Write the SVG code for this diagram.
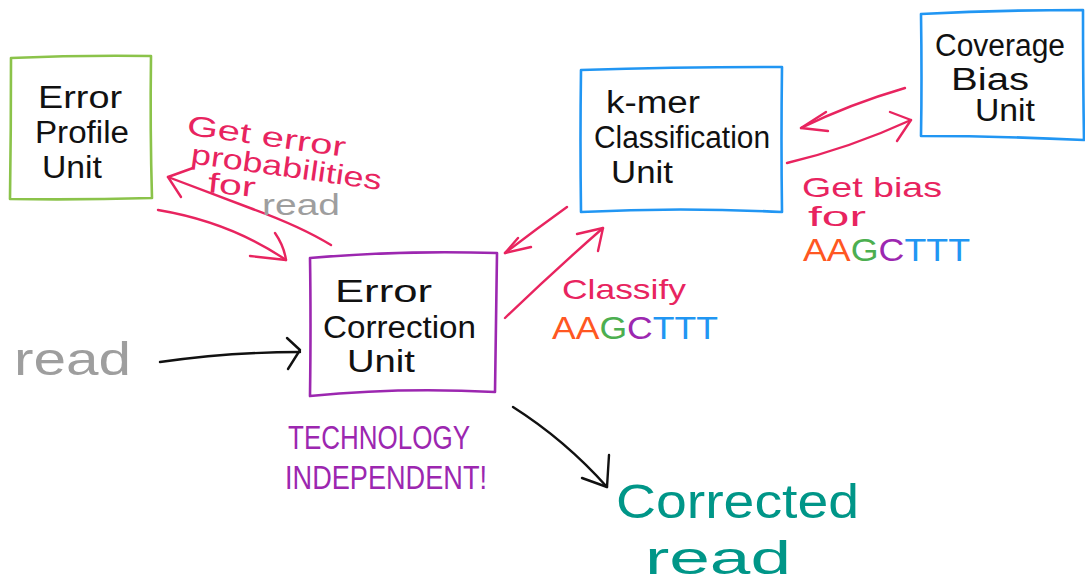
<svg xmlns="http://www.w3.org/2000/svg" width="1085" height="585" viewBox="0 0 1085 585">
<style>
text { font-family: "Liberation Sans", Arial, sans-serif; }
.blk { fill: #111; font-size: 31px; }
.red { fill: #e8245f; font-size: 28px; }
.gry { fill: #9e9e9e; }
.box { fill: none; stroke-width: 2.6; stroke-linecap: round; stroke-linejoin: round; }
.ln { fill: none; stroke-width: 2.4; stroke-linecap: round; stroke-linejoin: round; }
.r { stroke: #e8245f; }
.k { stroke: #111; }
.A { fill: #ff5722; } .G { fill: #4caf50; } .C { fill: #9c27b0; } .T { fill: #2196f3; }
</style>
<rect width="1085" height="585" fill="#ffffff"/>

<g id="error-profile-unit">
<path class="box" stroke="#8bc34a" d="M11 58 Q80 55 151 56 Q150 130 152 198 Q80 200 10 199 Q11 130 11 58"/>
<text class="blk" x="38" y="108" textLength="84" lengthAdjust="spacingAndGlyphs">Error</text>
<text class="blk" x="35" y="143" textLength="94" lengthAdjust="spacingAndGlyphs">Profile</text>
<text class="blk" x="42" y="178" textLength="60" lengthAdjust="spacingAndGlyphs">Unit</text>
</g>

<g id="error-correction-unit">
<path class="box" stroke="#9c27b0" d="M310 258 Q400 250 497 253 Q496 320 495 392 Q400 387 310 396 Q311 320 310 258"/>
<text class="blk" x="335" y="302" textLength="97" lengthAdjust="spacingAndGlyphs">Error</text>
<text class="blk" x="323" y="338" textLength="153" lengthAdjust="spacingAndGlyphs">Correction</text>
<text class="blk" x="347" y="372" textLength="68" lengthAdjust="spacingAndGlyphs">Unit</text>
</g>

<g id="kmer-classification-unit">
<path class="box" stroke="#2196f3" d="M581 70 Q680 67 782 67 Q781 140 782 212 Q680 207 581 212 Q580 140 581 70"/>
<text class="blk" x="606" y="113" textLength="94" lengthAdjust="spacingAndGlyphs">k-mer</text>
<text class="blk" x="594" y="148" textLength="176" lengthAdjust="spacingAndGlyphs">Classification</text>
<text class="blk" x="611" y="183" textLength="62" lengthAdjust="spacingAndGlyphs">Unit</text>
</g>

<g id="coverage-bias-unit">
<path class="box" stroke="#2196f3" d="M921 14 Q1000 10 1083 10 Q1083 80 1084 140 Q1000 136 921 136 Q922 80 921 14"/>
<text class="blk" x="935" y="56" font-size="28" textLength="130" lengthAdjust="spacingAndGlyphs">Coverage</text>
<text class="blk" x="951" y="90" font-size="28" textLength="78" lengthAdjust="spacingAndGlyphs">Bias</text>
<text class="blk" x="975" y="121" font-size="28" textLength="60" lengthAdjust="spacingAndGlyphs">Unit</text>
</g>

<g id="connectors">
<path class="ln r" d="M331 245 Q300 226 250 208 Q210 193 168 177"/>
<path class="ln r" d="M193 168 L168 177 L181 197"/>
<path class="ln r" d="M158 210 Q230 222 286 260"/>
<path class="ln r" d="M275 233 Q284 246 286 260 L250 256"/>
<path class="ln r" d="M567 207 Q535 230 505 253"/>
<path class="ln r" d="M531 247 L505 253 L518 238"/>
<path class="ln r" d="M505 318 Q555 270 603 228"/>
<path class="ln r" d="M577 234 L603 228 L598 251"/>
<path class="ln r" d="M905 88 Q850 104 801 128"/>
<path class="ln r" d="M826 112 L801 128 L828 131"/>
<path class="ln r" d="M787 163 Q850 148 911 120"/>
<path class="ln r" d="M890 112 L911 120 L897 141"/>
<path class="ln k" d="M160 362 Q230 352 300 352"/>
<path class="ln k" d="M287 338 L300 350 L288 369"/>
<path class="ln k" d="M513 407 Q565 440 607 487"/>
<path class="ln k" d="M582 478 L607 487 L609 455"/>
</g>

<g id="labels">
<g transform="rotate(8 190 135)">
<text class="red" x="186" y="135" textLength="160" lengthAdjust="spacingAndGlyphs">Get error</text>
<text class="red" x="194" y="163" font-size="26" textLength="192" lengthAdjust="spacingAndGlyphs">probabilities</text>
</g>
<text class="red" x="207" y="192" font-size="26" textLength="48" lengthAdjust="spacingAndGlyphs" transform="rotate(6 207 192)">for</text>
<text class="gry" x="262" y="215" font-size="30" textLength="78" lengthAdjust="spacingAndGlyphs">read</text>

<text class="gry" x="14" y="375" font-size="46" textLength="117" lengthAdjust="spacingAndGlyphs">read</text>

<text fill="#9c27b0" x="288" y="449" font-size="34" textLength="182" lengthAdjust="spacingAndGlyphs">TECHNOLOGY</text>
<text fill="#9c27b0" x="285" y="489" font-size="34" textLength="202" lengthAdjust="spacingAndGlyphs">INDEPENDENT!</text>

<text fill="#009688" x="616" y="518" font-size="48" textLength="243" lengthAdjust="spacingAndGlyphs">Corrected</text>
<text fill="#009688" x="645" y="574" font-size="46" textLength="146" lengthAdjust="spacingAndGlyphs">read</text>

<text class="red" x="562" y="299" textLength="124" lengthAdjust="spacingAndGlyphs">Classify</text>
<text x="552" y="339" font-size="31" textLength="166" lengthAdjust="spacingAndGlyphs"><tspan class="A">AA</tspan><tspan class="G">G</tspan><tspan class="C">C</tspan><tspan class="T">TTT</tspan></text>

<text class="red" x="802" y="197" textLength="140" lengthAdjust="spacingAndGlyphs">Get bias</text>
<text class="red" x="808" y="226" font-size="26" textLength="58" lengthAdjust="spacingAndGlyphs">for</text>
<text x="803" y="261" font-size="31" textLength="167" lengthAdjust="spacingAndGlyphs"><tspan class="A">AA</tspan><tspan class="G">G</tspan><tspan class="C">C</tspan><tspan class="T">TTT</tspan></text>
</g>
</svg>
